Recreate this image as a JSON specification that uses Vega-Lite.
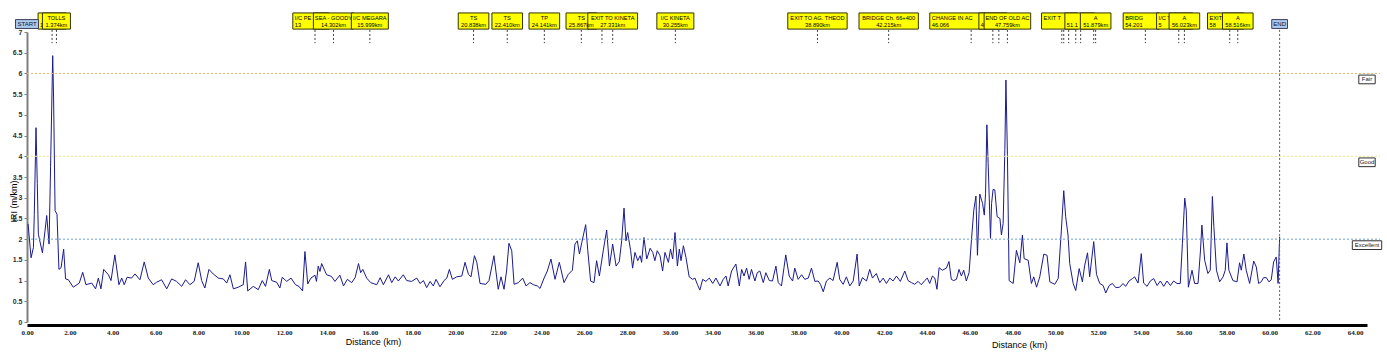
{
"$schema": "https://vega.github.io/schema/vega-lite/v6.json",
"width": 1340, "height": 290,
"autosize": {"type": "none"},
"padding": {"left": 27, "top": 32, "right": 20, "bottom": 36},
"background": "white",
"config": {"view": {"stroke": null}, "font": "Liberation Sans", "axis": {"labelOverlap": false}},
"datasets": {
"iri": [
{"km":0.05,"iri":2.37},{"km":0.19,"iri":1.55},{"km":0.30,"iri":1.80},{"km":0.34,"iri":2.60},{"km":0.42,"iri":4.69},{"km":0.48,"iri":3.35},{"km":0.53,"iri":2.12},{"km":0.72,"iri":1.67},{"km":0.84,"iri":2.20},{"km":0.92,"iri":2.57},{"km":1.03,"iri":1.88},{"km":1.10,"iri":3.75},{"km":1.20,"iri":6.43},{"km":1.24,"iri":5.43},{"km":1.31,"iri":2.69},{"km":1.40,"iri":2.60},{"km":1.49,"iri":1.27},{"km":1.59,"iri":1.31},{"km":1.71,"iri":1.76},{"km":1.80,"iri":1.04},{"km":1.93,"iri":1.02},{"km":2.16,"iri":0.84},{"km":2.44,"iri":0.94},{"km":2.60,"iri":1.20},{"km":2.75,"iri":0.90},{"km":3.02,"iri":0.94},{"km":3.20,"iri":0.80},{"km":3.33,"iri":1.06},{"km":3.45,"iri":0.80},{"km":3.58,"iri":1.27},{"km":3.80,"iri":1.14},{"km":3.92,"iri":1.00},{"km":4.10,"iri":1.62},{"km":4.29,"iri":0.90},{"km":4.42,"iri":1.06},{"km":4.54,"iri":0.90},{"km":4.67,"iri":1.08},{"km":4.88,"iri":1.06},{"km":5.04,"iri":1.16},{"km":5.27,"iri":1.02},{"km":5.47,"iri":1.45},{"km":5.66,"iri":1.06},{"km":5.89,"iri":0.90},{"km":6.05,"iri":0.96},{"km":6.28,"iri":1.02},{"km":6.52,"iri":0.80},{"km":6.75,"iri":1.04},{"km":6.98,"iri":0.98},{"km":7.22,"iri":0.86},{"km":7.40,"iri":1.02},{"km":7.60,"iri":0.90},{"km":7.80,"iri":0.98},{"km":7.99,"iri":1.43},{"km":8.15,"iri":1.00},{"km":8.30,"iri":0.82},{"km":8.49,"iri":1.27},{"km":8.69,"iri":1.16},{"km":8.93,"iri":1.06},{"km":9.16,"iri":1.04},{"km":9.32,"iri":0.94},{"km":9.47,"iri":1.14},{"km":9.63,"iri":0.80},{"km":9.86,"iri":0.84},{"km":10.09,"iri":0.90},{"km":10.20,"iri":1.45},{"km":10.30,"iri":0.75},{"km":10.56,"iri":0.86},{"km":10.79,"iri":0.78},{"km":10.98,"iri":1.00},{"km":11.13,"iri":0.86},{"km":11.31,"iri":1.27},{"km":11.42,"iri":1.00},{"km":11.65,"iri":0.96},{"km":11.80,"iri":0.82},{"km":11.91,"iri":1.08},{"km":12.12,"iri":0.98},{"km":12.32,"iri":1.06},{"km":12.53,"iri":0.90},{"km":12.69,"iri":0.86},{"km":12.86,"iri":0.75},{"km":12.97,"iri":1.70},{"km":13.10,"iri":0.92},{"km":13.25,"iri":1.06},{"km":13.44,"iri":1.13},{"km":13.51,"iri":0.98},{"km":13.59,"iri":1.35},{"km":13.67,"iri":1.22},{"km":13.75,"iri":1.41},{"km":13.98,"iri":1.14},{"km":14.21,"iri":1.10},{"km":14.37,"iri":0.98},{"km":14.60,"iri":1.13},{"km":14.77,"iri":0.87},{"km":14.95,"iri":1.03},{"km":15.15,"iri":0.95},{"km":15.31,"iri":1.07},{"km":15.47,"iri":1.41},{"km":15.57,"iri":1.19},{"km":15.67,"iri":1.27},{"km":15.85,"iri":1.06},{"km":16.04,"iri":0.95},{"km":16.32,"iri":0.90},{"km":16.48,"iri":1.07},{"km":16.63,"iri":0.90},{"km":16.87,"iri":1.14},{"km":17.02,"iri":0.95},{"km":17.18,"iri":1.09},{"km":17.33,"iri":0.99},{"km":17.56,"iri":1.14},{"km":17.72,"iri":1.00},{"km":17.95,"iri":0.98},{"km":18.19,"iri":1.06},{"km":18.34,"iri":0.93},{"km":18.50,"iri":1.00},{"km":18.65,"iri":0.83},{"km":18.81,"iri":0.98},{"km":18.96,"iri":0.87},{"km":19.09,"iri":1.03},{"km":19.27,"iri":0.85},{"km":19.46,"iri":1.00},{"km":19.59,"iri":1.06},{"km":19.71,"iri":1.27},{"km":19.85,"iri":1.03},{"km":20.05,"iri":1.09},{"km":20.29,"iri":1.11},{"km":20.44,"iri":1.44},{"km":20.60,"iri":1.15},{"km":20.72,"iri":1.09},{"km":20.88,"iri":1.60},{"km":20.99,"iri":1.44},{"km":21.14,"iri":0.93},{"km":21.41,"iri":0.91},{"km":21.56,"iri":1.00},{"km":21.79,"iri":1.60},{"km":21.99,"iri":0.79},{"km":22.12,"iri":1.09},{"km":22.26,"iri":0.79},{"km":22.38,"iri":1.23},{"km":22.49,"iri":1.90},{"km":22.62,"iri":1.72},{"km":22.73,"iri":0.91},{"km":22.93,"iri":0.95},{"km":23.13,"iri":1.06},{"km":23.29,"iri":0.87},{"km":23.47,"iri":0.95},{"km":23.63,"iri":0.90},{"km":23.82,"iri":0.87},{"km":23.94,"iri":0.81},{"km":24.13,"iri":1.06},{"km":24.28,"iri":1.23},{"km":24.45,"iri":1.52},{"km":24.64,"iri":1.03},{"km":24.84,"iri":1.44},{"km":25.06,"iri":0.95},{"km":25.26,"iri":1.15},{"km":25.45,"iri":1.25},{"km":25.57,"iri":1.88},{"km":25.68,"iri":1.96},{"km":25.78,"iri":1.64},{"km":25.89,"iri":1.92},{"km":26.07,"iri":2.35},{"km":26.17,"iri":1.72},{"km":26.30,"iri":0.99},{"km":26.46,"iri":0.95},{"km":26.58,"iri":1.48},{"km":26.71,"iri":1.11},{"km":26.89,"iri":1.72},{"km":27.05,"iri":2.22},{"km":27.18,"iri":1.35},{"km":27.33,"iri":1.88},{"km":27.49,"iri":1.35},{"km":27.64,"iri":1.46},{"km":27.75,"iri":1.96},{"km":27.86,"iri":2.75},{"km":27.95,"iri":1.96},{"km":28.03,"iri":2.16},{"km":28.17,"iri":1.72},{"km":28.26,"iri":1.30},{"km":28.37,"iri":1.68},{"km":28.50,"iri":1.48},{"km":28.61,"iri":1.60},{"km":28.68,"iri":1.44},{"km":28.79,"iri":2.04},{"km":28.92,"iri":1.52},{"km":29.08,"iri":1.78},{"km":29.20,"iri":1.68},{"km":29.30,"iri":1.48},{"km":29.41,"iri":1.72},{"km":29.54,"iri":1.60},{"km":29.66,"iri":1.23},{"km":29.77,"iri":1.68},{"km":29.93,"iri":1.44},{"km":30.03,"iri":1.76},{"km":30.13,"iri":1.52},{"km":30.24,"iri":2.16},{"km":30.35,"iri":1.35},{"km":30.44,"iri":1.76},{"km":30.52,"iri":1.48},{"km":30.63,"iri":1.84},{"km":30.75,"iri":1.56},{"km":30.90,"iri":1.09},{"km":31.06,"iri":1.03},{"km":31.17,"iri":1.06},{"km":33.28,"iri":0.91},{"km":33.40,"iri":0.77},{"km":33.53,"iri":1.03},{"km":33.68,"iri":0.98},{"km":33.84,"iri":1.06},{"km":34.00,"iri":0.93},{"km":34.15,"iri":1.06},{"km":34.34,"iri":0.87},{"km":34.49,"iri":1.03},{"km":34.62,"iri":1.11},{"km":34.72,"iri":0.87},{"km":34.88,"iri":1.23},{"km":35.08,"iri":1.40},{"km":35.24,"iri":0.87},{"km":35.35,"iri":1.27},{"km":35.46,"iri":1.11},{"km":35.58,"iri":1.30},{"km":35.70,"iri":1.03},{"km":35.81,"iri":1.27},{"km":35.97,"iri":0.99},{"km":36.08,"iri":1.19},{"km":36.20,"iri":1.23},{"km":36.36,"iri":0.95},{"km":36.48,"iri":1.19},{"km":36.64,"iri":1.00},{"km":36.79,"iri":0.99},{"km":36.95,"iri":1.35},{"km":37.06,"iri":0.95},{"km":37.21,"iri":0.87},{"km":37.41,"iri":1.62},{"km":37.57,"iri":1.11},{"km":37.73,"iri":0.99},{"km":37.83,"iri":1.30},{"km":37.99,"iri":1.03},{"km":38.15,"iri":1.14},{"km":38.30,"iri":1.03},{"km":38.46,"iri":1.06},{"km":38.61,"iri":1.30},{"km":38.77,"iri":0.98},{"km":38.92,"iri":0.99},{"km":39.03,"iri":0.91},{"km":39.16,"iri":0.73},{"km":39.31,"iri":0.99},{"km":39.47,"iri":1.06},{"km":39.62,"iri":1.00},{"km":39.81,"iri":1.44},{"km":39.93,"iri":1.03},{"km":40.09,"iri":0.91},{"km":40.24,"iri":1.09},{"km":40.40,"iri":0.87},{"km":40.56,"iri":0.99},{"km":40.74,"iri":1.64},{"km":40.84,"iri":0.87},{"km":40.99,"iri":1.07},{"km":41.18,"iri":0.99},{"km":41.33,"iri":1.27},{"km":41.46,"iri":1.06},{"km":41.64,"iri":1.17},{"km":41.80,"iri":0.95},{"km":41.96,"iri":1.06},{"km":42.11,"iri":0.93},{"km":42.27,"iri":1.06},{"km":42.42,"iri":0.99},{"km":42.58,"iri":1.11},{"km":42.76,"iri":0.98},{"km":42.97,"iri":1.23},{"km":43.12,"iri":1.00},{"km":43.28,"iri":0.95},{"km":43.43,"iri":0.91},{"km":43.59,"iri":0.98},{"km":43.74,"iri":0.90},{"km":43.90,"iri":1.00},{"km":44.02,"iri":1.06},{"km":44.13,"iri":0.93},{"km":44.26,"iri":1.11},{"km":44.37,"iri":1.06},{"km":44.47,"iri":0.79},{"km":44.57,"iri":1.31},{"km":44.72,"iri":1.25},{"km":44.91,"iri":1.30},{"km":45.03,"iri":1.46},{"km":45.14,"iri":1.03},{"km":45.25,"iri":1.00},{"km":45.38,"iri":1.03},{"km":45.50,"iri":1.27},{"km":45.61,"iri":1.11},{"km":45.72,"iri":1.25},{"km":45.84,"iri":0.99},{"km":45.97,"iri":1.19},{"km":46.08,"iri":1.98},{"km":46.19,"iri":2.70},{"km":46.29,"iri":3.04},{"km":46.36,"iri":1.61},{"km":46.47,"iri":3.09},{"km":46.60,"iri":2.86},{"km":46.68,"iri":2.58},{"km":46.74,"iri":3.11},{"km":46.80,"iri":4.76},{"km":46.86,"iri":3.83},{"km":46.97,"iri":2.02},{"km":47.02,"iri":2.86},{"km":47.09,"iri":3.20},{"km":47.17,"iri":3.19},{"km":47.28,"iri":2.54},{"km":47.41,"iri":2.50},{"km":47.48,"iri":2.10},{"km":47.56,"iri":2.38},{"km":47.64,"iri":4.16},{"km":47.69,"iri":5.84},{"km":47.76,"iri":4.04},{"km":47.84,"iri":1.00},{"km":48.03,"iri":0.93},{"km":48.18,"iri":1.73},{"km":48.34,"iri":1.43},{"km":48.46,"iri":2.10},{"km":48.54,"iri":1.53},{"km":48.73,"iri":1.49},{"km":48.88,"iri":0.93},{"km":48.99,"iri":1.09},{"km":49.12,"iri":0.84},{"km":49.27,"iri":1.09},{"km":49.46,"iri":1.64},{"km":49.61,"iri":1.61},{"km":49.74,"iri":0.97},{"km":49.97,"iri":0.91},{"km":50.13,"iri":1.05},{"km":50.28,"iri":2.22},{"km":50.39,"iri":3.17},{"km":50.48,"iri":2.54},{"km":50.59,"iri":2.10},{"km":50.67,"iri":1.41},{"km":50.83,"iri":0.93},{"km":50.95,"iri":0.76},{"km":51.11,"iri":1.29},{"km":51.26,"iri":0.97},{"km":51.37,"iri":1.37},{"km":51.50,"iri":1.67},{"km":51.60,"iri":1.09},{"km":51.79,"iri":1.94},{"km":51.92,"iri":1.15},{"km":52.07,"iri":0.93},{"km":52.23,"iri":0.88},{"km":52.35,"iri":0.70},{"km":52.51,"iri":0.88},{"km":52.66,"iri":0.93},{"km":52.82,"iri":0.83},{"km":53.00,"iri":0.84},{"km":53.16,"iri":0.93},{"km":53.28,"iri":0.86},{"km":53.44,"iri":0.99},{"km":53.60,"iri":1.05},{"km":53.70,"iri":1.09},{"km":53.86,"iri":0.94},{"km":54.01,"iri":1.65},{"km":54.12,"iri":0.94},{"km":54.28,"iri":0.86},{"km":54.43,"iri":0.99},{"km":54.59,"iri":1.05},{"km":54.75,"iri":0.88},{"km":54.90,"iri":0.99},{"km":55.06,"iri":0.86},{"km":55.21,"iri":0.99},{"km":55.37,"iri":0.88},{"km":55.52,"iri":0.99},{"km":55.68,"iri":0.93},{"km":55.83,"iri":0.93},{"km":55.93,"iri":1.89},{"km":56.04,"iri":2.99},{"km":56.11,"iri":2.70},{"km":56.21,"iri":0.84},{"km":56.38,"iri":1.25},{"km":56.50,"iri":0.93},{"km":56.66,"iri":0.93},{"km":56.77,"iri":1.69},{"km":56.84,"iri":2.34},{"km":56.97,"iri":1.49},{"km":57.12,"iri":1.17},{"km":57.23,"iri":1.25},{"km":57.33,"iri":3.03},{"km":57.40,"iri":2.30},{"km":57.52,"iri":1.25},{"km":57.67,"iri":0.97},{"km":57.83,"iri":1.09},{"km":57.93,"iri":1.25},{"km":58.01,"iri":1.91},{"km":58.10,"iri":1.25},{"km":58.29,"iri":1.00},{"km":58.48,"iri":0.97},{"km":58.60,"iri":1.43},{"km":58.68,"iri":1.25},{"km":58.80,"iri":1.64},{"km":58.91,"iri":1.25},{"km":59.07,"iri":0.93},{"km":59.26,"iri":1.47},{"km":59.38,"iri":1.33},{"km":59.49,"iri":0.93},{"km":59.61,"iri":0.97},{"km":59.72,"iri":1.07},{"km":59.85,"iri":1.07},{"km":59.97,"iri":0.97},{"km":60.08,"iri":1.02},{"km":60.19,"iri":1.45},{"km":60.31,"iri":1.57},{"km":60.40,"iri":0.93},{"km":60.47,"iri":2.06}
],
"markers": [
{"km":1.17,"name":"","chain":"1","label":"partial"},
{"km":1.374,"name":"TOLLS","chain":"1.374km","label":"full"},
{"km":13.44,"name":"I/C PE","chain":"13","label":"partial"},
{"km":14.302,"name":"SEA - GOODY","chain":"14.302km","label":"full"},
{"km":15.999,"name":"I/C MEGARA","chain":"15.999km","label":"full"},
{"km":20.838,"name":"TS","chain":"20.838km","label":"full"},
{"km":22.41,"name":"TS","chain":"22.410km","label":"full"},
{"km":24.141,"name":"TP","chain":"24.141km","label":"full"},
{"km":25.867,"name":"TS","chain":"25.867km","label":"full"},
{"km":26.83,"name":"","chain":"","label":"none"},
{"km":27.331,"name":"EXIT TO KINETA","chain":"27.331km","label":"full"},
{"km":30.255,"name":"I/C KINETA","chain":"30.255km","label":"full"},
{"km":38.89,"name":"EXIT TO AG. THEOD","chain":"38.890km","label":"full"},
{"km":42.215,"name":"BRIDGE Ch. 66+400","chain":"42.215km","label":"full"},
{"km":46.066,"name":"CHANGE IN AC","chain":"46.066","label":"partial"},
{"km":47.08,"name":"","chain":"4","label":"partial"},
{"km":47.36,"name":"","chain":"","label":"none"},
{"km":47.759,"name":"END OF OLD AC","chain":"47.759km","label":"full"},
{"km":50.3,"name":"","chain":"","label":"none"},
{"km":50.39,"name":"EXIT T","chain":"","label":"partial"},
{"km":50.62,"name":"","chain":"","label":"none"},
{"km":50.95,"name":"","chain":"","label":"none"},
{"km":51.18,"name":"","chain":"51.1","label":"partial"},
{"km":51.79,"name":"","chain":"","label":"none"},
{"km":51.879,"name":"A","chain":"51.879km","label":"full"},
{"km":54.201,"name":"BRIDG","chain":"54.201","label":"partial"},
{"km":55.76,"name":"I/C TC","chain":"5","label":"partial"},
{"km":56.023,"name":"A","chain":"56.023km","label":"full"},
{"km":58.14,"name":"EXIT T","chain":"58","label":"partial"},
{"km":58.516,"name":"A","chain":"58.516km","label":"full"}
],
"ends": [{"km":0,"name":"START"},{"km":60.47,"name":"END"}],
"thresholds": [{"value":6,"label":"Fair"},{"value":4,"label":"Good"},{"value":2,"label":"Excellent"}]
},
"layer": [
{"data":{"name":"iri"},
 "mark":{"type":"line","color":"#1b1b8f","strokeWidth":1},
 "encoding":{
  "x":{"field":"km","type":"quantitative",
   "scale":{"type":"linear","domain":[0,31.2,33.2,64.55],"range":[0,668.6,668.6,1340],"nice":false,"zero":false},
   "axis":{"title":"Distance (km)","values":[0,2,4,6,8,10,12,14,16,18,20,22,24,26,28,30,34,36,38,40,42,44,46,48,50,52,54,56,58,60,62,64],"format":".2f","grid":false,"ticks":false,"domainColor":"#000000","domainWidth":3,"offset":3,"labelFont":"Liberation Serif","labelFontWeight":"bold","labelFontSize":7,"labelColor":"#202020","labelPadding":3,"labelFlush":false,"labelOverlap":false,"titleFont":"Liberation Sans","titleFontSize":9,"titleFontWeight":"normal","titleColor":"#000000","titleX":346,"titleY":16.5,"titleAnchor":null,"titleAlign":"center","titleBaseline":"middle"}},
  "y":{"field":"iri","type":"quantitative",
   "scale":{"domain":[0,7],"nice":false,"zero":true},
   "axis":{"title":"IRI (m/km)","tickCount":14,"tickMinStep":0.5,"labelExpr":"format(datum.value, '~g')","grid":false,"domainColor":"#808080","domainWidth":2,"tickColor":"#808080","tickSize":3,"labelFont":"Liberation Sans","labelFontWeight":"bold","labelFontSize":7,"labelColor":"#303030","labelPadding":2,"labelOverlap":false,"labelFlush":false,"labelSeparation":0,"titleFont":"Liberation Sans","titleFontSize":9,"titleFontWeight":"normal","titleColor":"#000000","titleX":-14,"titleY":169,"titleAngle":-90,"titleAlign":"center","titleBaseline":"middle"}}}},
{"data":{"name":"thresholds"},
 "mark":{"type":"rule","strokeDash":[2,2],"strokeWidth":1},
 "encoding":{"x":{"datum":0,"type":"quantitative"},"x2":{"datum":65.16},
  "y":{"field":"value","type":"quantitative"},
  "color":{"field":"label","type":"nominal","scale":{"domain":["Fair","Good","Excellent"],"range":["#ebb46e","#e8e87e","#6a9fd8"]},"legend":null}}},
{"data":{"name":"thresholds"},
 "transform":[{"calculate":"(length(datum.label)*2.6+6)/2/21.43","as":"hw"},{"calculate":"64.55-datum.hw","as":"bx0"},{"calculate":"64.55+datum.hw","as":"bx1"},{"calculate":"datum.value-0.04","as":"by0"},{"calculate":"datum.value-0.25","as":"by1"}],
 "mark":{"type":"rect","fill":"white","stroke":"#303030","strokeWidth":1},
 "encoding":{"x":{"field":"bx0","type":"quantitative"},"x2":{"field":"bx1"},"y":{"field":"by0","type":"quantitative"},"y2":{"field":"by1"}}},
{"data":{"name":"thresholds"},
 "transform":[{"calculate":"datum.value-0.145","as":"ty"}],
 "mark":{"type":"text","fontSize":6,"color":"#202020","baseline":"middle"},
 "encoding":{"x":{"datum":64.55,"type":"quantitative"},"y":{"field":"ty","type":"quantitative"},"text":{"field":"label"}}},
{"data":{"name":"markers"},
 "mark":{"type":"rule","strokeDash":[2,2],"strokeWidth":1,"color":"#404040"},
 "encoding":{"x":{"field":"km","type":"quantitative"},"y":{"datum":7.05,"type":"quantitative"},"y2":{"datum":6.73}}},
{"data":{"name":"ends"},
 "transform":[{"filter":"datum.name == 'END'"}],
 "mark":{"type":"rule","strokeDash":[2,2],"strokeWidth":1,"color":"#606060"},
 "encoding":{"x":{"field":"km","type":"quantitative"},"y":{"datum":7.05,"type":"quantitative"},"y2":{"datum":0}}},
{"data":{"name":"markers"},
 "transform":[{"filter":"datum.label == 'partial'"},{"calculate":"datum.km-max(14,max(length(datum.name),length(datum.chain))*3.2+3)/21.43","as":"bx0"},{"calculate":"datum.km+14/21.43","as":"bx1"}],
 "mark":{"type":"rect","fill":"#ffff00","stroke":"#333300","strokeWidth":1},
 "encoding":{"x":{"field":"bx0","type":"quantitative"},"x2":{"field":"bx1"},"y":{"datum":7.46,"type":"quantitative"},"y2":{"datum":7.07}}},
{"data":{"name":"markers"},
 "transform":[{"filter":"datum.label == 'partial'"},{"calculate":"datum.km-max(14,max(length(datum.name),length(datum.chain))*3.2+3)/21.43","as":"bx0"}],
 "mark":{"type":"text","fontSize":5.7,"color":"#000000","align":"left","dx":2,"baseline":"middle"},
 "encoding":{"x":{"field":"bx0","type":"quantitative"},"y":{"datum":7.35,"type":"quantitative"},"text":{"field":"name"}}},
{"data":{"name":"markers"},
 "transform":[{"filter":"datum.label == 'partial'"},{"calculate":"datum.km-max(14,max(length(datum.name),length(datum.chain))*3.2+3)/21.43","as":"bx0"}],
 "mark":{"type":"text","fontSize":5.7,"color":"#000000","align":"left","dx":2,"baseline":"middle"},
 "encoding":{"x":{"field":"bx0","type":"quantitative"},"y":{"datum":7.17,"type":"quantitative"},"text":{"field":"chain"}}},
{"data":{"name":"markers"},
 "transform":[{"filter":"datum.label == 'full'"},{"calculate":"max(28,max(length(datum.name),length(datum.chain))*3.2+5)/2/21.43","as":"hw"},{"calculate":"datum.km-datum.hw","as":"bx0"},{"calculate":"datum.km+datum.hw","as":"bx1"}],
 "mark":{"type":"rect","fill":"#ffff00","stroke":"#333300","strokeWidth":1},
 "encoding":{"x":{"field":"bx0","type":"quantitative"},"x2":{"field":"bx1"},"y":{"datum":7.46,"type":"quantitative"},"y2":{"datum":7.07}}},
{"data":{"name":"markers"},
 "transform":[{"filter":"datum.label == 'full'"}],
 "mark":{"type":"text","fontSize":5.7,"color":"#000000","baseline":"middle"},
 "encoding":{"x":{"field":"km","type":"quantitative"},"y":{"datum":7.35,"type":"quantitative"},"text":{"field":"name"}}},
{"data":{"name":"markers"},
 "transform":[{"filter":"datum.label == 'full'"}],
 "mark":{"type":"text","fontSize":5.7,"color":"#000000","baseline":"middle"},
 "encoding":{"x":{"field":"km","type":"quantitative"},"y":{"datum":7.17,"type":"quantitative"},"text":{"field":"chain"}}},
{"data":{"name":"ends"},
 "transform":[{"calculate":"(length(datum.name)*3.6+5)/2/21.43","as":"hw"},{"calculate":"datum.km-datum.hw","as":"bx0"},{"calculate":"datum.km+datum.hw","as":"bx1"}],
 "mark":{"type":"rect","fill":"#a9c8ec","stroke":"#404060","strokeWidth":1},
 "encoding":{"x":{"field":"bx0","type":"quantitative"},"x2":{"field":"bx1"},"y":{"datum":7.3,"type":"quantitative"},"y2":{"datum":7.085}}},
{"data":{"name":"ends"},
 "mark":{"type":"text","fontSize":6,"color":"#101030","baseline":"middle"},
 "encoding":{"x":{"field":"km","type":"quantitative"},"y":{"datum":7.19,"type":"quantitative"},"text":{"field":"name"}}},
{"data":{"values":[{"km":48.34,"t":"Distance (km)"}]},
 "mark":{"type":"text","fontSize":9,"color":"#000000","font":"Liberation Sans","baseline":"middle"},
 "encoding":{"x":{"field":"km","type":"quantitative"},"y":{"datum":-0.56,"type":"quantitative"},"text":{"field":"t"}}}
]
}
